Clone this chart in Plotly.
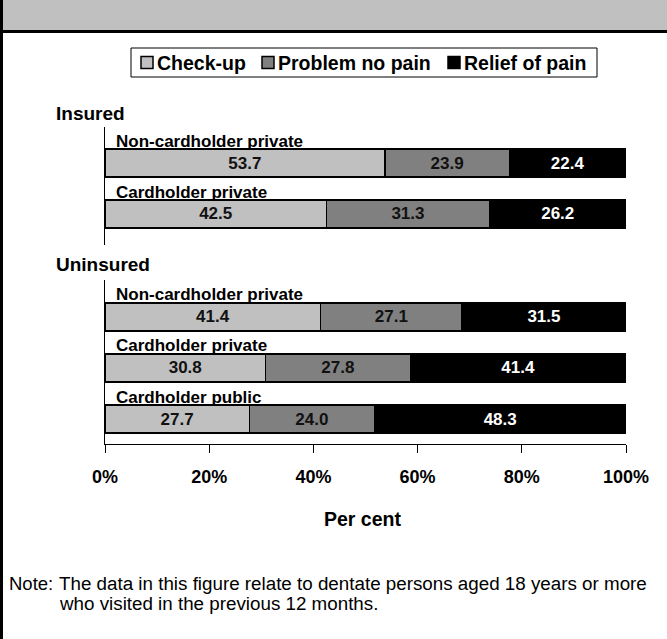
import plotly.graph_objects as go

# ---- data ----
series = ["Check-up", "Problem no pain", "Relief of pain"]
colors = ["#C0C0C0", "#808080", "#000000"]
text_colors = ["#111111", "#111111", "#FFFFFF"]

insured_cats = ["Non-cardholder private", "Cardholder private"]
insured_vals = {
    "Check-up": [53.7, 42.5],
    "Problem no pain": [23.9, 31.3],
    "Relief of pain": [22.4, 26.2],
}

uninsured_cats = ["Non-cardholder private", "Cardholder private", "Cardholder public"]
uninsured_vals = {
    "Check-up": [41.4, 30.8, 27.7],
    "Problem no pain": [27.1, 27.8, 24.0],
    "Relief of pain": [31.5, 41.4, 48.3],
}

tick_vals = [0, 20, 40, 60, 80, 100]
tick_text = ["0%", "20%", "40%", "60%", "80%", "100%"]

note_lines = ["The data in this figure relate to dentate persons aged 18 years or more",
              "who visited in the previous 12 months."]

FONT = "Arial, Liberation Sans, sans-serif"
W, H = 667, 639
ML, MR = 105, 41
PW = W - ML - MR


def px_x(p):
    return (p - ML) / PW


def px_y(p):
    return 1 - p / H


fig = go.Figure()

for i, s in enumerate(series):
    fig.add_trace(go.Bar(
        y=insured_cats, x=insured_vals[s], orientation="h", name=s,
        marker=dict(color=colors[i], line=dict(color="#000000", width=1.5)),
        text=[f"{v:.1f}" for v in insured_vals[s]], textposition="inside",
        insidetextanchor="middle", textangle=0,
        textfont=dict(family=FONT, size=17, color=text_colors[i], weight="bold"),
        width=0.55, xaxis="x", yaxis="y", showlegend=False,
        hoverinfo="skip",
    ))
for i, s in enumerate(series):
    fig.add_trace(go.Bar(
        y=uninsured_cats, x=uninsured_vals[s], orientation="h", name=s,
        marker=dict(color=colors[i], line=dict(color="#000000", width=1.5)),
        text=[f"{v:.1f}" for v in uninsured_vals[s]], textposition="inside",
        insidetextanchor="middle", textangle=0,
        textfont=dict(family=FONT, size=17, color=text_colors[i], weight="bold"),
        width=0.55, xaxis="x2", yaxis="y2", showlegend=False,
        hoverinfo="skip",
    ))

annotations = []
for c in insured_cats:
    annotations.append(dict(x=0, y=c, xref="x", yref="y", text=f"<b>{c}</b>",
                            showarrow=False, xanchor="left", yanchor="middle",
                            xshift=9, yshift=22,
                            font=dict(family=FONT, size=17, color="#000")))
for c in uninsured_cats:
    annotations.append(dict(x=0, y=c, xref="x2", yref="y2", text=f"<b>{c}</b>",
                            showarrow=False, xanchor="left", yanchor="middle",
                            xshift=9, yshift=22,
                            font=dict(family=FONT, size=17, color="#000")))

annotations += [
    dict(x=px_x(54), y=px_y(113), xref="paper", yref="paper", text="<b>Insured</b>",
         showarrow=False, xanchor="left", yanchor="middle",
         font=dict(family=FONT, size=19, color="#000")),
    dict(x=px_x(54), y=px_y(264), xref="paper", yref="paper", text="<b>Uninsured</b>",
         showarrow=False, xanchor="left", yanchor="middle",
         font=dict(family=FONT, size=19, color="#000")),
    dict(x=px_x(362.5), y=px_y(519), xref="paper", yref="paper", text="<b>Per cent</b>",
         showarrow=False, xanchor="center", yanchor="middle",
         font=dict(family=FONT, size=19.5, color="#000")),
    dict(x=px_x(7), y=px_y(583), xref="paper", yref="paper", text="Note:",
         showarrow=False, xanchor="left", yanchor="middle",
         font=dict(family=FONT, size=18.5, color="#000")),
]
for k, line in enumerate(note_lines):
    annotations.append(dict(x=px_x(57), y=px_y(583 + 20 * k), xref="paper", yref="paper",
                            text=line, showarrow=False, xanchor="left", yanchor="middle",
                            align="left", font=dict(family=FONT, size=18.8, color="#000")))

shapes = [
    dict(type="rect", xref="paper", yref="paper", x0=px_x(0), x1=px_x(W),
         y0=px_y(0), y1=px_y(31), fillcolor="#C0C0C0", line=dict(width=0), layer="below"),
    dict(type="line", xref="paper", yref="paper", x0=px_x(0), x1=px_x(W),
         y0=px_y(31.5), y1=px_y(31.5), line=dict(color="#000", width=3)),
    dict(type="line", xref="paper", yref="paper", x0=px_x(1.5), x1=px_x(1.5),
         y0=px_y(0), y1=px_y(H), line=dict(color="#000", width=3)),
]

# ---- legend (boxed, horizontal, compact) ----
leg_box = (131, 597, 48, 77)
leg_square_x = [141, 262, 448]
leg_cy = (leg_box[2] + leg_box[3]) / 2
shapes.append(dict(type="rect", xref="paper", yref="paper",
                   x0=px_x(leg_box[0]), x1=px_x(leg_box[1]),
                   y0=px_y(leg_box[3]), y1=px_y(leg_box[2]),
                   fillcolor="white", line=dict(color="#000", width=1)))
for i, s in enumerate(series):
    sx = leg_square_x[i]
    shapes.append(dict(type="rect", xref="paper", yref="paper",
                       x0=px_x(sx), x1=px_x(sx + 12),
                       y0=px_y(leg_cy + 6), y1=px_y(leg_cy - 6),
                       fillcolor=colors[i], line=dict(color="#000", width=1.5)))
    annotations.append(dict(x=px_x(sx + 14), y=px_y(leg_cy + 0.5), xref="paper", yref="paper",
                            text=f"<b>{s}</b>", showarrow=False, xanchor="left",
                            yanchor="middle",
                            font=dict(family=FONT, size=19.5, color="#000")))

fig.update_layout(
    width=W, height=H,
    margin=dict(l=ML, r=MR, t=0, b=0, pad=0),
    paper_bgcolor="white", plot_bgcolor="white",
    barmode="stack", bargap=0.45,
    font=dict(family=FONT, color="#000"),
    showlegend=False,
    xaxis=dict(domain=[0, 1], range=[0, 100], anchor="y", visible=False, fixedrange=True),
    yaxis=dict(domain=[px_y(245), px_y(127)], type="category", range=[1.608, -0.706],
               anchor="x", showline=True, linecolor="#000", linewidth=1,
               showticklabels=False, ticks="", showgrid=False, zeroline=False, fixedrange=True),
    xaxis2=dict(domain=[0, 1], range=[0, 100], anchor="y2", showline=True,
                linecolor="#000", linewidth=1, ticks="outside", ticklen=8,
                tickcolor="#000", tickwidth=1, tickvals=tick_vals, ticktext=tick_text,
                tickfont=dict(family=FONT, size=18, color="#000", weight="bold"),
                ticklabelstandoff=8, showgrid=False, zeroline=False, fixedrange=True),
    yaxis2=dict(domain=[px_y(444), px_y(280)], type="category", range=[2.490, -0.725],
                anchor="x2", showline=True, linecolor="#000", linewidth=1,
                showticklabels=False, ticks="", showgrid=False, zeroline=False, fixedrange=True),
    annotations=annotations,
    shapes=shapes,
)

fig.write_html("out.html", config={"displayModeBar": False},
               post_script="document.body.style.margin='0px';")
